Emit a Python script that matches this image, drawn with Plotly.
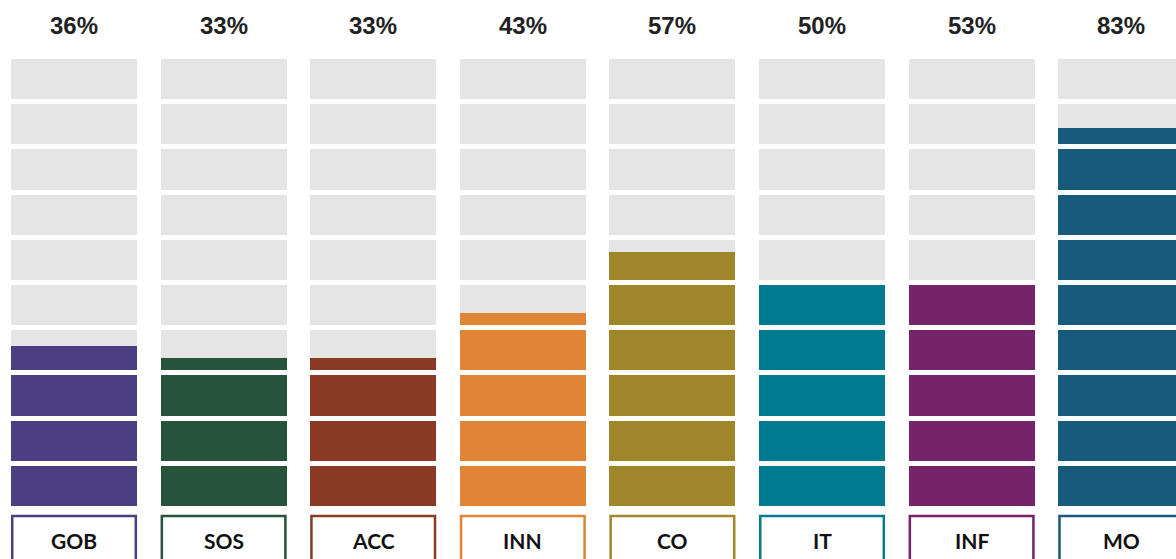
import plotly.graph_objects as go

categories = ["GOB", "SOS", "ACC", "INN", "CO", "IT", "INF", "MO"]
pct_labels = [36, 33, 33, 43, 57, 50, 53, 83]
fill_levels = [36, 33, 33, 43, 57, 50, 50, 84]  # filled share as drawn (%)
colors = ["#4B3F82", "#27533A", "#8A3A22", "#E08535", "#A0862A", "#007A8F", "#742368", "#185A7B"]
n_segments = 10

GRAY = "#E5E5E5"
SEG_H = 0.889   # segment height in units of 10%
BAR_W = 0.842

fig = go.Figure()
xs = list(range(len(categories)))

for s in range(n_segments):
    fig.add_trace(go.Bar(
        x=xs, y=[SEG_H] * len(xs), base=[s] * len(xs),
        width=BAR_W, marker=dict(color=GRAY, line=dict(width=0)),
        hoverinfo="skip", showlegend=False))
    frac = [max(0.0, min(1.0, f / 10.0 - s)) for f in fill_levels]
    fig.add_trace(go.Bar(
        x=xs, y=[fr * SEG_H for fr in frac], base=[s] * len(xs),
        width=BAR_W, marker=dict(color=colors, line=dict(width=0)),
        hoverinfo="skip", showlegend=False))

for i, cat in enumerate(categories):
    fig.add_annotation(x=i, y=10.62, text=f"<b>{pct_labels[i]}%</b>", showarrow=False,
                       font=dict(family="Liberation Sans, Arial", size=24, color="#222222"),
                       xanchor="center", yanchor="middle")
    fig.add_shape(type="rect", xref="x", yref="y",
                  x0=i - BAR_W / 2 + 0.008, x1=i + BAR_W / 2 - 0.008,
                  y0=-0.22, y1=-2.0,
                  line=dict(color=colors[i], width=2.5), fillcolor="white", layer="above")
    fig.add_annotation(x=i, y=-0.77, text=f"<b>{cat}</b>", showarrow=False,
                       font=dict(family="Lato, Open Sans, sans-serif", size=21, color="#111111"),
                       xanchor="center", yanchor="middle")

fig.update_layout(
    width=1176, height=559,
    margin=dict(l=0, r=0, t=0, b=0),
    barmode="overlay", bargap=0,
    plot_bgcolor="white", paper_bgcolor="white",
    xaxis=dict(range=[-0.4947, 7.366], visible=False, fixedrange=True),
    yaxis=dict(range=[-1.173, 11.194], visible=False, fixedrange=True),
    showlegend=False,
)

fig.write_html("out.html", config={"displayModeBar": False},
               post_script="document.body.style.margin='0';document.body.style.overflow='hidden';")
